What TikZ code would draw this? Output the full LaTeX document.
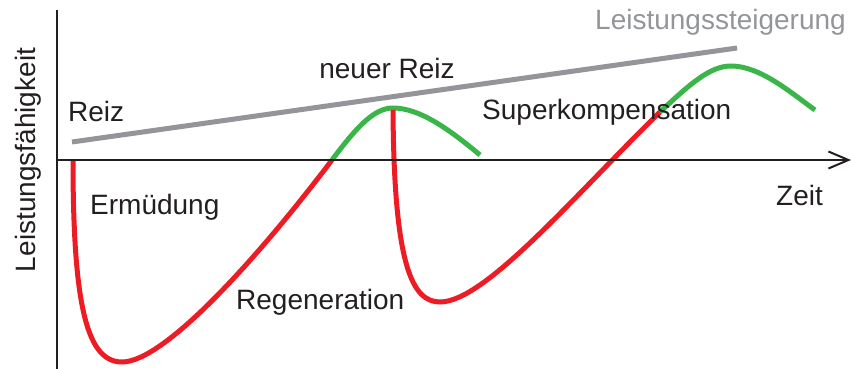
\documentclass[tikz,border=0pt]{standalone}
\usepackage{fontspec}
\setmainfont{Liberation Sans}
\usetikzlibrary{arrows.meta}
\definecolor{cred}{HTML}{ED1C24}
\definecolor{cgreen}{HTML}{39B54A}
\definecolor{cgray}{HTML}{939598}
\definecolor{ctext}{HTML}{231F20}
\tikzset{
  lbl/.style={text=ctext,font=\fontsize{28}{32}\selectfont,inner sep=0pt},
  redc/.style={draw=cred,line width=5pt},
  greenc/.style={draw=cgreen,line width=5pt},
  axis/.style={draw=ctext,line width=2pt},
}
\begin{document}
\begin{tikzpicture}[x=1pt,y=-1pt]
\useasboundingbox (0,0) rectangle (851,369);
% gray trend
\coordinate (g1) at (72,142);
\coordinate (g2) at (737,48);
\draw[cgray,line width=5pt] (g1) -- (g2);
% curve points
\coordinate (r1s) at (73,160);
\coordinate (r1m) at (122,362);
\coordinate (c1) at (332,160);
\coordinate (p1) at (393,108);
\coordinate (e1) at (480,155);
\coordinate (r2m) at (440,302);
\coordinate (c2) at (660,112);
\coordinate (p2) at (731,66);
\coordinate (e2) at (815,110);
\draw[redc] (r1s) .. controls (73,310) and (88,362) .. (r1m)
  .. controls (165,362) and (260,255) .. (c1);
\draw[greenc] (c1) .. controls (358,125) and (375,108) .. (p1)
  .. controls (420,108) and (450,130) .. (e1);
\draw[redc] (393,110) .. controls (394,265) and (412,302) .. (r2m)
  .. controls (485,302) and (575,195) .. (c2);
\draw[greenc] (c2) .. controls (690,84) and (710,66) .. (p2)
  .. controls (760,66) and (790,92) .. (e2);
% axes
\coordinate (O) at (57,160);
\coordinate (ytop) at (57,10);
\coordinate (ybot) at (57,369);
\coordinate (xend) at (851,160);
\draw[axis] (ytop) -- (ybot);
\draw[axis,-{Straight Barb[length=20pt,width=17pt,line width=2pt]}] (O) -- (xend);
% labels
\node[lbl,text=cgray,anchor=east] (ls) at (846,22) {Leistungssteigerung};
\node[lbl] (nr) at (387,68) {neuer Reiz};
\node[lbl,anchor=west] (rz) at (68,111) {Reiz};
\node[lbl,anchor=west] (em) at (90,207) {Ermüdung};
\node[lbl,anchor=west] (rg) at (236,302) {Regeneration};
\node[lbl,anchor=west] (sk) at (482,112) {Superkompensation};
\node[lbl,anchor=west] (zt) at (776,195) {Zeit};
\node[lbl,rotate=90] (lf) at (28,160) {Leistungsfähigkeit};
\end{tikzpicture}
\end{document}
